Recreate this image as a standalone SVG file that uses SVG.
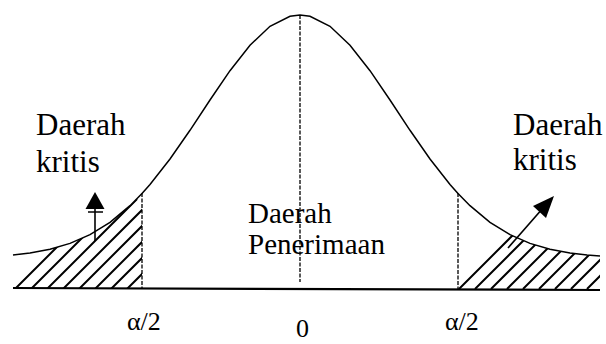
<svg xmlns="http://www.w3.org/2000/svg" width="606" height="344" viewBox="0 0 606 344">
<defs>
<style>
.curve{fill:none;stroke:#000;stroke-width:1.5}
.cut{fill:none;stroke:#000;stroke-width:1.3;stroke-dasharray:4 1.5}
.hatch{fill:none;stroke:#000;stroke-width:2}
.base{fill:none;stroke:#000;stroke-width:2.2}
.arr{fill:none;stroke:#000;stroke-width:1.6}
</style>
<clipPath id="clipL">
<polygon points="13,289 142,289 142,193.5 130,205.7 110,222.3 90,234.7 70,243.4 50,249.2 30,252.9 13,255"/>
</clipPath>
<clipPath id="clipR">
<polygon points="458,289 600,289 600,256 587,255 570,252.9 550,249.2 530,243.4 510,234.7 490,222.3 470,205.7 458,193.5"/>
</clipPath>
</defs>

<g id="curve">
<path class="curve" d="M13,255 L30,252.9 L50,249.2 L70,243.4 L90,234.7 L110,222.3 L130,205.7 L142,193.5 L150,184.5 L170,159 L190,130.3 L210,100 L230,70.7 L250,45.2 L270,26.3 L290,16.3 L300,15 L310,16.3 L330,26.3 L350,45.2 L370,70.7 L390,100 L410,130.3 L430,159 L450,184.5 L458,193.5 L470,205.7 L490,222.3 L510,234.7 L530,243.4 L550,249.2 L570,252.9 L587,255 L600,256"/>
</g>

<g id="axis">
<line class="base" x1="13" y1="288" x2="600" y2="290"/>
<line class="cut" x1="142" y1="193" x2="142" y2="288"/>
<line class="cut" x1="458" y1="193" x2="458" y2="289"/>
<line class="cut" x1="300" y1="15" x2="300" y2="282"/>
</g>

<g id="hatchLeft" clip-path="url(#clipL)">
<path class="hatch" d="M15,289 l90,-90 M31,289 l90,-90 M47,289 l90,-90 M63,289 l90,-90 M79,289 l90,-90 M95,289 l90,-90 M111,289 l90,-90 M127,289 l90,-90"/>
</g>

<g id="hatchRight" clip-path="url(#clipR)">
<path class="hatch" d="M459,289 l90,-90 M475,289 l90,-90 M491,289 l90,-90 M507,289 l90,-90 M523,289 l90,-90 M539,289 l90,-90 M555,289 l90,-90 M571,289 l90,-90 M587,289 l90,-90 M603,289 l90,-90"/>
</g>

<g id="connectors">
<line class="arr" x1="95" y1="241" x2="95" y2="207"/>
<path d="M95,192 L85.5,209 L104.5,209 Z" fill="#000"/>
<line x1="88" y1="212" x2="103" y2="212" stroke="#000" stroke-width="1.5"/>
<line class="arr" x1="508" y1="248" x2="543" y2="208"/>
<path d="M554,196 L533,206 L546,218 Z" fill="#000"/>
</g>

<g id="labels" font-family="Liberation Serif, Times New Roman, DejaVu Serif, serif" fill="#000">
<g id="labelLeft" font-size="31">
<text x="36" y="135">Daerah</text>
<text x="36" y="172">kritis</text>
</g>
<g id="labelRight" font-size="31">
<text x="513" y="135">Daerah</text>
<text x="513" y="170">kritis</text>
</g>
<g id="labelMid" font-size="29">
<text x="248" y="223">Daerah</text>
<text x="248" y="254">Penerimaan</text>
</g>
<g id="ticks" font-size="26">
<text x="127" y="330">α/2</text>
<text x="296" y="337">0</text>
<text x="445" y="330">α/2</text>
</g>
</g>
</svg>
